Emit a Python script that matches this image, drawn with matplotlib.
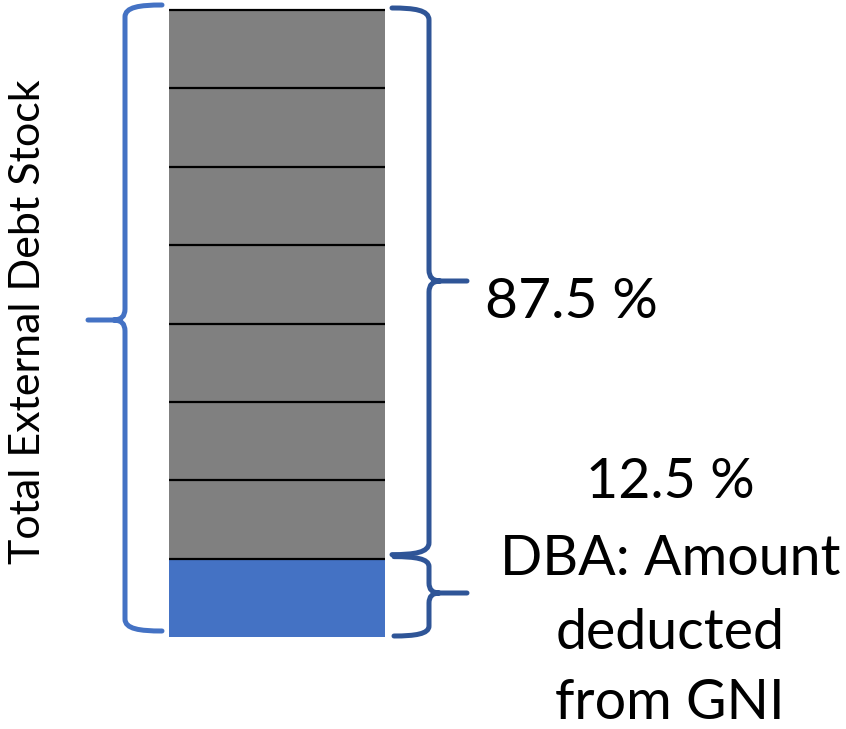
import matplotlib
matplotlib.use("Agg")
import matplotlib.pyplot as plt
from matplotlib.path import Path
from matplotlib.patches import PathPatch
from matplotlib.transforms import Affine2D

# Share of total external debt stock, bottom to top
segment_values = [12.5] * 8
segment_colors = ["#4472C4"] + ["#808080"] * 7
dba_share = 12.5
rest_share = 87.5

W, H = 846, 729
fig = plt.figure(figsize=(W / 100, H / 100), dpi=100)
ax = fig.add_axes([0, 0, 1, 1])
ax.set_axis_off()

# x in pixels, y in percent of debt stock
px_per_pct = 6.27
y_base = 637
ax.set_xlim(0, W)
ax.set_ylim((y_base - H) / px_per_pct, y_base / px_per_pct)

bar_left, bar_right = 169, 385
bar_x = (bar_left + bar_right) / 2
bar_w = bar_right - bar_left

bottom = 0.0
bounds = []
for v, c in zip(segment_values, segment_colors):
    ax.bar(bar_x, v, bottom=bottom, width=bar_w, color=c, edgecolor="none")
    bottom += v
    bounds.append(bottom)
ax.hlines(bounds, bar_left, bar_right, color="black", lw=1.6)

# pixel-space transform (y pointing down) for braces and labels
pix = Affine2D().scale(1 / W, -1 / H).translate(0, 1) + fig.transFigure


def ypix(v):
    return y_base - v * px_per_pct


def brace(xs, y0, y1, xe, xt, ym, color, r=12, rt=11, lw=3.6):
    s = 1 if xt > xs else -1
    verts = [
        (xe, y0),
        (xe + 0.6 * (xs - xe), y0), (xs, y0 + 2), (xs, y0 + r),
        (xs, ym - rt),
        (xs, ym), (xs + s * rt, ym),
        (xt, ym),
        (xs + s * rt, ym),
        (xs, ym), (xs, ym + rt),
        (xs, y1 - r),
        (xs, y1 - 2), (xe + 0.6 * (xs - xe), y1), (xe, y1),
    ]
    codes = [Path.MOVETO,
             Path.CURVE4, Path.CURVE4, Path.CURVE4,
             Path.LINETO,
             Path.CURVE3, Path.CURVE3,
             Path.LINETO,
             Path.MOVETO,
             Path.CURVE3, Path.CURVE3,
             Path.LINETO,
             Path.CURVE4, Path.CURVE4, Path.CURVE4]
    patch = PathPatch(Path(verts, codes), facecolor="none", edgecolor=color,
                      lw=lw, capstyle="round", joinstyle="round",
                      transform=pix)
    ax.add_patch(patch)


# left brace around the whole stock
brace(125, 5, 631, 162, 88, 320, "#4472C4")
# right braces: remaining share and DBA share
brace(429, 8, ypix(dba_share) - 4, 392, 467, 281, "#2F5597")
brace(429, ypix(dba_share) - 2, 636, 394, 467, 593, "#2F5597", r=10, rt=10)

font = "Lato"
ax.text(485, 318, f"{rest_share} %", transform=pix, fontsize=41,
        family=font, ha="left", va="baseline")
lines = [f"{dba_share} %", "DBA: Amount", "deducted", "from GNI"]
baselines = [498, 575, 649, 719]
for t, yb in zip(lines, baselines):
    ax.text(670, yb, t, transform=pix, fontsize=40,
            family=font, ha="center", va="baseline")
ax.text(28, 322, "Total External Debt Stock", transform=pix, fontsize=31,
        family=font, rotation=90, ha="center", va="center")

fig.savefig("out.png", dpi=100)
